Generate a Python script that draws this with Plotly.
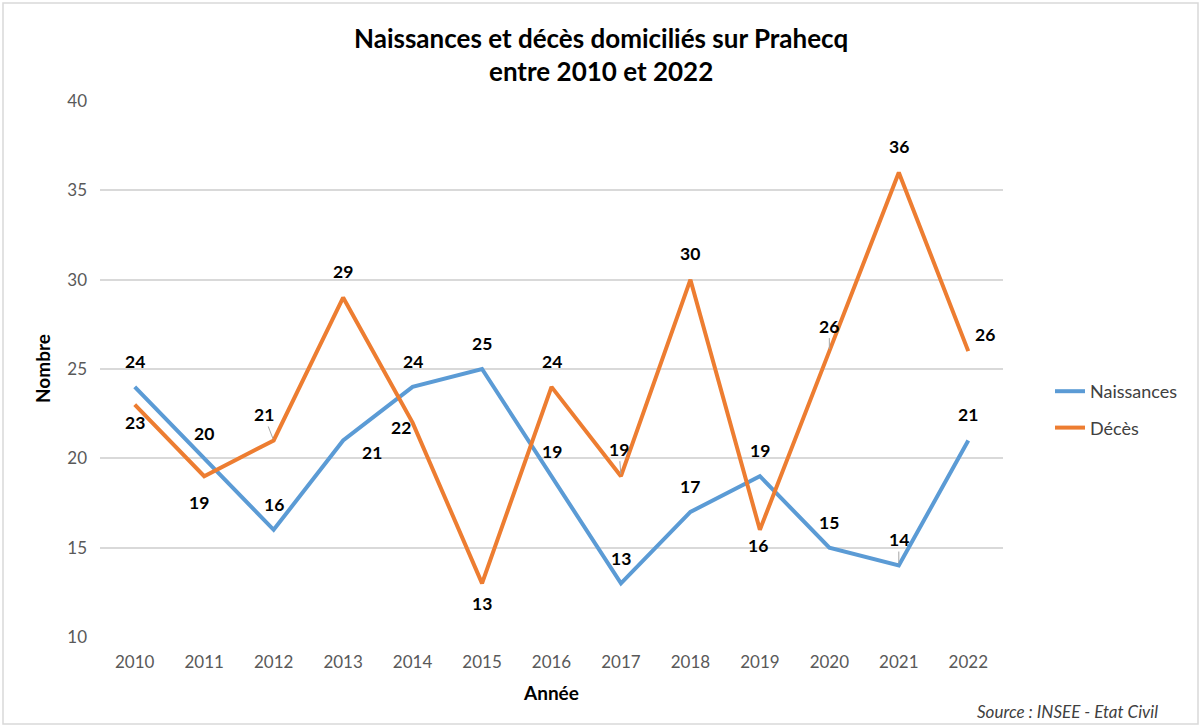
import plotly.graph_objects as go

years = [str(y) for y in range(2010, 2023)]
naissances = [24, 20, 16, 21, 24, 25, 19, 13, 17, 19, 15, 14, 21]
deces = [23, 19, 21, 29, 22, 13, 24, 19, 30, 16, 26, 36, 26]

# label offsets (dx, dy in pixels, dy positive = up), leader flag
lab_n = [(0, 25, 0), (0, 25, 0), (0, 25, 0), (29, -12, 0), (0, 25, 0), (0, 26, 0), (0, 25, 0),
         (0, 25, 0), (0, 25, 0), (0, 26, 0), (0, 25, 0), (0, 26, 1), (0, 26, 0)]
lab_d = [(0, -18, 0), (-5, -26, 0), (-10, 26, 1), (0, 26, 0), (-12, -5, 0), (0, -20, 0), (0, 25, 0),
         (-2, 27, 1), (0, 26, 0), (-2, -16, 0), (0, 25, 1), (0, 26, 0), (17, 17, 0)]

W, H = 1202, 727
L, R, T, B = 100, 199, 101, 90
pw, ph = W - L - R, H - T - B

def px(x):
    return (x - L) / pw

def py(y):
    return (H - B - y) / ph

BLUE = "#5B9BD5"
ORANGE = "#ED7D31"
FONT = "Lato, 'Open Sans', 'Liberation Sans', sans-serif"

fig = go.Figure()
fig.add_trace(go.Scatter(x=years, y=naissances, mode="lines", name="Naissances",
                         line=dict(color=BLUE, width=4), legendgroup="a", hoverinfo="skip"))
fig.add_trace(go.Scatter(x=years, y=deces, mode="lines", name="Décès",
                         line=dict(color=ORANGE, width=4), legendgroup="b", hoverinfo="skip"))

lab_font = dict(family=FONT, size=17.5, color="black", weight="bold")
anns = []
for series, labs in ((naissances, lab_n), (deces, lab_d)):
    for i, (v, (dx, dy, lead)) in enumerate(zip(series, labs)):
        if lead:
            anns.append(dict(x=i, y=v, xref="x", yref="y", text=str(v), showarrow=True,
                             ax=dx, ay=-dy, arrowhead=0, arrowwidth=1, arrowcolor="#A6A6A6",
                             standoff=2, font=lab_font))
        else:
            anns.append(dict(x=i, y=v, xref="x", yref="y", text=str(v), showarrow=False,
                             xshift=dx, yshift=dy, font=lab_font))

title_font = dict(family=FONT, size=26, color="black", weight="bold")
axt_font = dict(family=FONT, size=19, color="black", weight="bold")
anns += [
    dict(x=px(601), y=py(38), xref="paper", yref="paper", text="Naissances et décès domiciliés sur Prahecq",
         showarrow=False, font=title_font, xanchor="center", yanchor="middle"),
    dict(x=px(601), y=py(71), xref="paper", yref="paper", text="entre 2010 et 2022",
         showarrow=False, font=title_font, xanchor="center", yanchor="middle"),
    dict(x=px(42), y=py(369), xref="paper", yref="paper", text="Nombre", textangle=-90,
         showarrow=False, font=axt_font, xanchor="center", yanchor="middle"),
    dict(x=px(551), y=py(692), xref="paper", yref="paper", text="Année",
         showarrow=False, font=axt_font, xanchor="center", yanchor="middle"),
    dict(x=px(1160), y=py(711), xref="paper", yref="paper", text="<i>Source : INSEE - Etat Civil</i>",
         showarrow=False, font=dict(family=FONT, size=17, color="#404040"),
         xanchor="right", yanchor="middle"),
]

fig.update_layout(
    width=W, height=H,
    margin=dict(l=L, r=R, t=T, b=B),
    paper_bgcolor="white", plot_bgcolor="white",
    font=dict(family=FONT, color="#595959"),
    showlegend=True,
    legend=dict(x=px(1050), y=py(373), xanchor="left", yanchor="top",
                font=dict(family=FONT, size=18, color="#404040"),
                traceorder="grouped", tracegroupgap=10, bgcolor="rgba(0,0,0,0)"),
    annotations=anns,
    shapes=[dict(type="rect", xref="paper", yref="paper",
                 x0=px(3), x1=px(1198), y0=py(724), y1=py(3),
                 line=dict(color="#D9D9D9", width=1.5), layer="below")],
)
fig.update_xaxes(type="category", range=[-0.5, 12.5], showgrid=False, showline=False,
                 ticks="", tickfont=dict(family=FONT, size=17, color="#595959"),
                 ticklabelstandoff=13, zeroline=False)
fig.update_yaxes(range=[10, 40], dtick=5, showgrid=True, gridcolor="#D9D9D9", gridwidth=1.5,
                 showline=False, ticks="", zeroline=False,
                 tickfont=dict(family=FONT, size=17, color="#595959"), ticklabelstandoff=12)

fig.write_html("out.html", config={"displayModeBar": False},
               post_script="document.body.style.margin='0';")
